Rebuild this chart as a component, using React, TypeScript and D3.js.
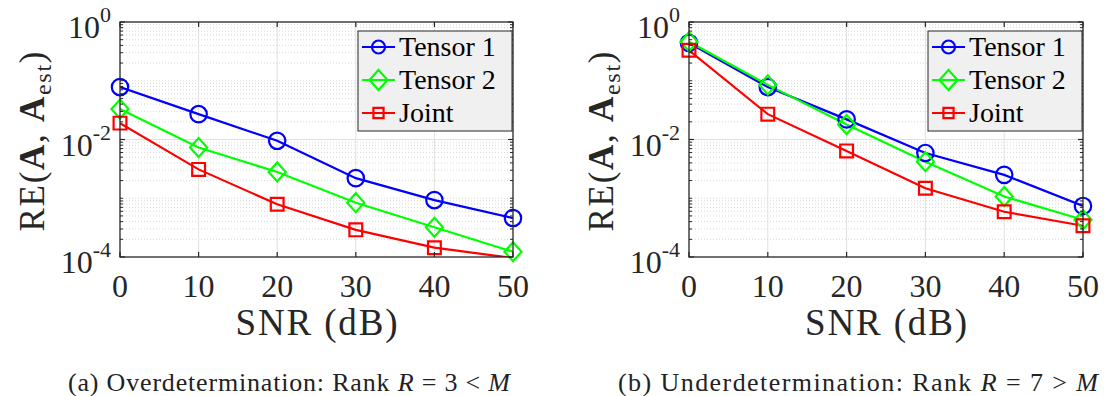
import * as d3 from "d3";

const snr = [0, 10, 20, 30, 40, 50];
const overTensor1 = [0.078, 0.027, 0.0095, 0.0022, 0.00093, 0.00046];
const overTensor2 = [0.033, 0.0073, 0.0028, 0.00084, 0.00032, 0.000123];
const overJoint = [0.019, 0.0031, 0.00079, 0.00029, 0.000144, 0.000096];
const underTensor1 = [0.44, 0.078, 0.022, 0.0059, 0.0025, 0.00074];
const underTensor2 = [0.46, 0.085, 0.018, 0.0042, 0.00107, 0.00043];
const underJoint = [0.33, 0.027, 0.0064, 0.00148, 0.00059, 0.00034];

const seriesNames = ["Tensor 1", "Tensor 2", "Joint"];
const seriesColors = ["#0000ff", "#00ff00", "#ff0000"];
const seriesMarkers = ["circle", "diamond", "square"];
const xTicks = [0, 10, 20, 30, 40, 50];
const yMajorExp = [0, -2, -4];

const FF = { fontFamily: "Liberation Serif" };
const AX = "#262626";
const css = `svg.fig text, svg.fig tspan { font-family: "Liberation Serif", serif !important; }`;

const panels = [
  {
    id: "a",
    left: 120,
    right: 513,
    series: [overTensor1, overTensor2, overJoint],
    label: "(a) Overdetermination: Rank ",
    rel: " = 3 < ",
    capX: 68,
    capW: 442,
  },
  {
    id: "b",
    left: 689,
    right: 1083,
    series: [underTensor1, underTensor2, underJoint],
    label: "(b) Underdetermination: Rank ",
    rel: " = 7 > ",
    capX: 618,
    capW: 480,
  },
];

const top = 22;
const bottom = 257;

function markerPath(kind: string, s: number) {
  if (kind === "circle") return `M${-s},0A${s},${s} 0 1,0 ${s},0A${s},${s} 0 1,0 ${-s},0Z`;
  if (kind === "diamond") return `M0,${-s}L${s * 0.9},0L0,${s}L${-s * 0.9},0Z`;
  const h = s * 0.78;
  return `M${-h},${-h}H${h}V${h}H${-h}Z`;
}

// minor decade values 2..9 x 10^k plus the unlabeled decades
const minorVals: number[] = [];
for (let k = -4; k <= -1; k++) {
  for (let m = 1; m <= 9; m++) {
    const v = m * Math.pow(10, k);
    if (m === 1 && (k === -4 || k === -2)) continue;
    minorVals.push(v);
  }
}

function Panel({ p }: { p: (typeof panels)[number] }) {
  const x = d3.scaleLinear().domain([0, 50]).range([p.left, p.right]);
  const y = d3.scaleLog().domain([1e-4, 1]).range([bottom, top]);
  const line = d3
    .line<number>()
    .x((_, i) => x(snr[i]))
    .y((d) => y(d));
  const clipId = `clip-${p.id}`;
  const cx = (p.left + p.right) / 2;
  const cy = (top + bottom) / 2;
  const legX = p.right - 155;
  const legY = 31;

  return (
    <g>
      <defs>
        <clipPath id={clipId}>
          <rect x={p.left} y={top} width={p.right - p.left} height={bottom - top} />
        </clipPath>
      </defs>
      {/* minor grid */}
      {minorVals.map((v) => (
        <line
          key={`mg${v}`}
          x1={p.left}
          x2={p.right}
          y1={y(v)}
          y2={y(v)}
          stroke="#cfcfcf"
          strokeWidth={0.8}
          strokeDasharray="1,2"
        />
      ))}
      {/* major grid */}
      {xTicks.slice(1, -1).map((t) => (
        <line key={`gx${t}`} x1={x(t)} x2={x(t)} y1={top} y2={bottom} stroke="#e0e0e0" strokeWidth={1} />
      ))}
      <line x1={p.left} x2={p.right} y1={y(1e-2)} y2={y(1e-2)} stroke="#e0e0e0" strokeWidth={1} />

      {/* data */}
      <g clipPath={`url(#${clipId})`}>
        {p.series.map((s, i) => (
          <path key={`l${i}`} d={line(s) || ""} fill="none" stroke={seriesColors[i]} strokeWidth={2.2} />
        ))}
      </g>
      {p.series.map((s, i) =>
        s.map((v, j) =>
          v >= 1e-4 ? (
            <path
              key={`m${i}-${j}`}
              d={markerPath(seriesMarkers[i], seriesMarkers[i] === "diamond" ? 9.5 : 8.2)}
              transform={`translate(${x(snr[j])},${y(v)})`}
              fill="none"
              stroke={seriesColors[i]}
              strokeWidth={2.2}
            />
          ) : null
        )
      )}

      {/* box and ticks */}
      <rect x={p.left} y={top} width={p.right - p.left} height={bottom - top} fill="none" stroke={AX} strokeWidth={1.3} />
      {xTicks.map((t) => (
        <g key={`xt${t}`}>
          <line x1={x(t)} x2={x(t)} y1={bottom} y2={bottom - 5} stroke={AX} strokeWidth={1.2} />
          <line x1={x(t)} x2={x(t)} y1={top} y2={top + 5} stroke={AX} strokeWidth={1.2} />
          <text x={x(t)} y={297} textAnchor="middle" style={FF} fontSize={32} fill={AX}>
            {t}
          </text>
        </g>
      ))}
      {minorVals.map((v) => (
        <g key={`mt${v}`}>
          <line x1={p.left} x2={p.left + 3} y1={y(v)} y2={y(v)} stroke={AX} strokeWidth={1} />
          <line x1={p.right} x2={p.right - 3} y1={y(v)} y2={y(v)} stroke={AX} strokeWidth={1} />
        </g>
      ))}
      {yMajorExp.map((e) => {
        const yy = y(Math.pow(10, e));
        return (
          <g key={`yt${e}`}>
            <line x1={p.left} x2={p.left + 5} y1={yy} y2={yy} stroke={AX} strokeWidth={1.2} />
            <line x1={p.right} x2={p.right - 5} y1={yy} y2={yy} stroke={AX} strokeWidth={1.2} />
            <text x={p.left - 9} y={yy + 16} textAnchor="end" style={FF} fontSize={32} fill={AX}>
              10
              <tspan dy={-16} fontSize={22}>
                {e === 0 ? "0" : `-${-e}`}
              </tspan>
            </text>
          </g>
        );
      })}

      {/* axis labels */}
      <text x={cx - 81} y={335} style={FF} fontSize={37} textLength={162} lengthAdjust="spacing" fill={AX}>
        SNR (dB)
      </text>
      <text
        transform={`translate(${p.left - 76},${cy + 92}) rotate(-90)`}
        style={FF}
        fontSize={35}
        textLength={180}
        lengthAdjust="spacing"
        fill={AX}
      >
        RE(
        <tspan fontWeight="bold">A</tspan>, <tspan fontWeight="bold">A</tspan>
        <tspan fontSize={24} dy={7}>
          est
        </tspan>
        <tspan dy={-7}>)</tspan>
      </text>

      {/* legend */}
      <rect x={legX} y={legY} width={154} height={100} fill="#f0f0f0" stroke={AX} strokeWidth={1} />
      {seriesNames.map((n, i) => {
        const ry = legY + 16 + i * 33;
        return (
          <g key={`lg${i}`}>
            <line x1={legX + 4} x2={legX + 37} y1={ry} y2={ry} stroke={seriesColors[i]} strokeWidth={2.2} />
            <path
              d={markerPath(seriesMarkers[i], seriesMarkers[i] === "diamond" ? 10 : 6.5)}
              transform={`translate(${legX + 20.5},${ry})`}
              fill="none"
              stroke={seriesColors[i]}
              strokeWidth={2.2}
            />
            <text x={legX + 41} y={ry + 9} style={FF} fontSize={28} fill="#000">
              {n}
            </text>
          </g>
        );
      })}

      {/* caption */}
      <text x={p.capX} y={391} style={FF} fontSize={26} textLength={p.capW} lengthAdjust="spacing" fill="#222">
        {p.label}
        <tspan fontStyle="italic">R</tspan>
        {p.rel}
        <tspan fontStyle="italic">M</tspan>
      </text>
    </g>
  );
}

export default function App() {
  return (
    <svg
      className="fig"
      width={1105}
      height={396}
      style={{ position: "absolute", left: 0, top: 0, fontFamily: "Liberation Serif" }}
    >
      <style>{css}</style>
      <rect width={1105} height={396} fill="#fff" />
      {panels.map((p) => (
        <Panel key={p.id} p={p} />
      ))}
    </svg>
  );
}
